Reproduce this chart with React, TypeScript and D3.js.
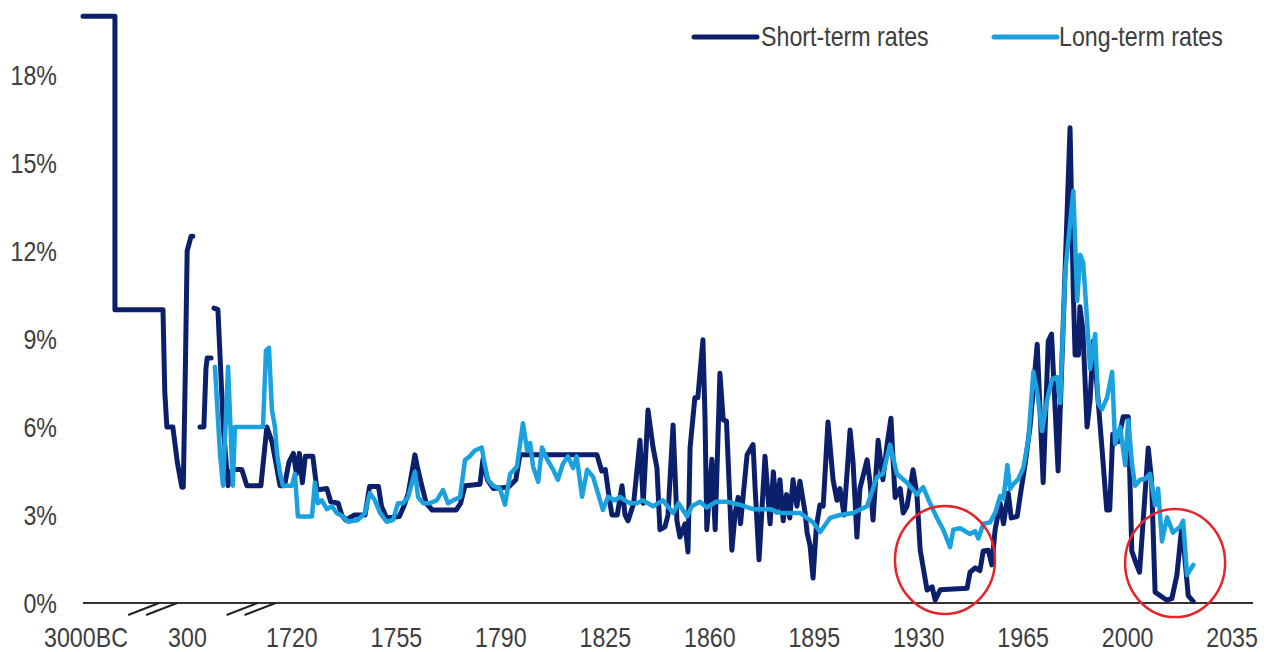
import React from "react";
import * as d3 from "d3";

type Pt = [number, number] | null;

// x positions: category slots (years from 1720 on; earlier slots are ancient periods)
const xTickLabels = ["3000BC", "300", "1720", "1755", "1790", "1825", "1860", "1895", "1930", "1965", "2000", "2035"];
const xTickPos = [1651, 1685, 1720, 1755, 1790, 1825, 1860, 1895, 1930, 1965, 2000, 2035];
const yTicks = [0, 3, 6, 9, 12, 15, 18];
const axisBreaks = [1673.5, 1706.5];

const shortTerm: Pt[] = [
  [1650, 20], [1660.7, 20], [1660.7, 10], [1676.8, 10], [1677.4, 7.2], [1678.1, 6], [1680.1, 6], [1681.6, 4.8], [1683.1, 3.95], [1683.6, 3.95], [1684.3, 8], [1684.9, 12], [1686.2, 12.5], [1686.8, 12.5], null,
  [1689.2, 6], [1690.5, 6], [1691.2, 8], [1691.6, 8.35], [1692.9, 8.35], null,
  [1693.9, 10.05], [1695.2, 10], [1697, 6], [1698.6, 4], [1699.9, 4.55], [1703.2, 4.55], [1704.9, 4], [1709.6, 4], [1711.6, 6], [1713.3, 5.5], [1714.6, 4.8], [1716, 4], [1717.5, 4], [1719, 4.8], [1720.5, 5.1], [1721.5, 4.4], [1722.5, 5.1], [1723.5, 4.1], [1724.5, 5.0], [1727, 5.0], [1728.4, 3.85], [1731.7, 3.9], [1733, 3.45], [1735.5, 3.4], [1736.7, 3.0], [1738, 2.83], [1741, 3.0], [1744.5, 3.0], [1746, 3.97], [1749, 3.97], [1750, 3.3], [1751.7, 2.9], [1756, 2.95], [1757.5, 3.3], [1759, 3.75], [1761.2, 5.05], [1762, 4.65], [1763.5, 4.0], [1765, 3.4], [1767, 3.17], [1775, 3.17], [1776.5, 3.4], [1778, 4.0], [1783, 4.05], [1784, 4.9], [1785.5, 4.2], [1787.5, 3.9], [1792.5, 3.95], [1795, 4.2], [1796.4, 5.05], [1822.2, 5.05], [1823.8, 4.5], [1825, 4.55], [1826, 3.8], [1827.2, 3.0], [1829, 3.0], [1830.6, 4.0], [1831.6, 3.0], [1832.6, 2.8], [1834.5, 3.4], [1836.6, 5.55], [1837.7, 3.4], [1839.3, 6.58], [1841, 5.3], [1842.3, 4.6], [1843.3, 2.5], [1845, 2.6], [1846, 3.0], [1847.7, 6.07], [1849, 2.8], [1850, 2.25], [1851.7, 2.7], [1852.7, 1.74], [1853.4, 5.3], [1855, 7.0], [1856, 7.0], [1857.7, 8.97], [1858.4, 6.35], [1859, 2.5], [1860.7, 4.9], [1861.8, 2.5], [1863.4, 7.83], [1864.5, 6.24], [1865.6, 6.2], [1867.4, 1.8], [1868.5, 3.07], [1869.5, 3.6], [1870.3, 2.7], [1872.5, 5.05], [1874.5, 5.4], [1875.2, 3.9], [1876.5, 1.47], [1878.5, 5.0], [1880.2, 2.7], [1881.3, 4.47], [1882.4, 3.1], [1883.5, 4.2], [1884.6, 2.8], [1885.7, 3.7], [1886.8, 2.9], [1887.9, 4.2], [1889.2, 3.3], [1890.2, 4.15], [1891.9, 3.1], [1892.6, 2.4], [1893.6, 1.95], [1894.6, 0.85], [1895.7, 2.6], [1896.9, 3.34], [1898, 3.3], [1899.6, 6.17], [1901.3, 4.2], [1902.6, 3.5], [1903.6, 3.9], [1905, 3.0], [1907, 5.9], [1908, 4.8], [1909.3, 2.25], [1910.3, 3.9], [1912.7, 4.88], [1913.7, 4.1], [1914.7, 2.83], [1916.4, 5.55], [1918, 4.2], [1919.4, 5.4], [1920.7, 6.3], [1921.4, 4.9], [1922.1, 3.6], [1923.8, 3.9], [1924.8, 3.07], [1926.1, 3.3], [1928.1, 4.54], [1929.4, 3.7], [1930.5, 1.8], [1932.8, 0.44], [1934.5, 0.55], [1935.5, 0.1], [1937.2, 0.45], [1946.2, 0.5], [1947.2, 1.05], [1949, 1.2], [1950.5, 1.1], [1951.6, 1.77], [1953.3, 1.8], [1954.5, 1.3], [1955.6, 2.5], [1957.3, 3.4], [1958.4, 2.7], [1960, 3.75], [1961, 2.9], [1963, 2.95], [1964, 3.65], [1965.6, 4.7], [1967.3, 6.0], [1969.7, 8.82], [1971.7, 4.1], [1973.4, 8.93], [1974.5, 9.17], [1976.7, 4.5], [1980.7, 16.2], [1981.8, 10.6], [1982.4, 8.45], [1983.5, 8.45], [1984, 10.1], [1985, 9.3], [1986.4, 6.0], [1987.4, 6.9], [1988.5, 8.93], [1990.2, 6.8], [1991.3, 5.4], [1993, 3.17], [1994, 3.17], [1995, 5.75], [1996.8, 5.5], [1998.5, 6.35], [2000.2, 6.35], [2001.4, 1.77], [2003, 1.3], [2004, 1.05], [2006.9, 5.28], [2008, 4.2], [2009.2, 0.37], [2013, 0.1], [2014.8, 0.15], [2016.5, 0.95], [2018.2, 2.65], [2020.3, 0.25], [2022, 0.05],
];

const longTerm: Pt[] = [
  [1694.2, 8.05], [1695.9, 5.1], [1696.9, 4.0], [1698.6, 8.05], [1700.2, 4.0], [1700.9, 6.0], [1710.3, 6.0], [1711.3, 8.6], [1712.3, 8.7], [1713.3, 6.58], [1714.3, 6.0], [1715, 5.1], [1716, 4.43], [1717, 4.0], [1720, 4.0], [1721, 4.4], [1722, 2.95], [1726.7, 2.95], [1727.7, 4.1], [1728.7, 3.4], [1730, 3.5], [1731.7, 3.2], [1733.4, 3.3], [1735, 3.07], [1737.1, 2.95], [1738.8, 2.77], [1742.1, 2.83], [1744.5, 3.07], [1746.1, 3.75], [1747.8, 3.5], [1749.5, 3.07], [1751.7, 2.77], [1753.9, 2.83], [1755.5, 3.4], [1757.2, 3.4], [1758.9, 3.6], [1761.2, 4.47], [1762.3, 3.6], [1764, 3.4], [1766.2, 3.4], [1768.5, 3.5], [1770.6, 3.85], [1772.3, 3.4], [1774, 3.5], [1776.3, 3.6], [1778, 4.88], [1779.6, 5.0], [1781.3, 5.2], [1783.6, 5.3], [1784.7, 4.65], [1785.7, 4.2], [1787.4, 4.0], [1789.7, 3.9], [1791.4, 3.35], [1793.1, 4.4], [1795.4, 4.65], [1797.4, 6.13], [1798.8, 5.2], [1799.8, 5.45], [1800.8, 4.65], [1802.5, 4.13], [1803.8, 5.3], [1805.5, 4.9], [1807.5, 4.55], [1809.1, 4.2], [1810.8, 4.75], [1812.5, 5.0], [1814.2, 4.6], [1815.4, 5.0], [1817.2, 3.62], [1818.9, 4.54], [1820.9, 4.3], [1822.5, 3.75], [1824.2, 3.17], [1825.9, 3.62], [1828.2, 3.5], [1829.9, 3.62], [1831.6, 3.5], [1833.3, 3.4], [1835.6, 3.4], [1837.6, 3.5], [1841, 3.3], [1844.3, 3.5], [1847.7, 3.07], [1849.5, 3.4], [1852.4, 2.95], [1854, 3.3], [1856.7, 3.45], [1859, 3.25], [1862, 3.45], [1865.8, 3.45], [1870, 3.35], [1874.5, 3.2], [1880.2, 3.2], [1883.5, 3.07], [1890.2, 3.07], [1894.6, 2.75], [1897, 2.42], [1900.3, 2.9], [1903.6, 3.0], [1908, 3.07], [1912.7, 3.3], [1916, 4.3], [1918, 4.4], [1920.4, 5.4], [1922.7, 4.4], [1926.1, 4.1], [1929.4, 3.7], [1931.5, 3.95], [1933.8, 3.4], [1936.1, 2.9], [1938.2, 2.5], [1940.5, 1.9], [1941.6, 2.5], [1943.9, 2.55], [1947.2, 2.35], [1948.9, 2.45], [1950, 2.2], [1951.6, 2.7], [1953.9, 2.75], [1955.6, 3.07], [1957.3, 3.65], [1958.4, 3.55], [1959.7, 4.7], [1960.6, 3.89], [1961.7, 4.05], [1963.4, 4.23], [1965, 4.6], [1966.7, 5.52], [1968.4, 7.88], [1969.7, 7.2], [1971.3, 5.86], [1973, 6.9], [1974.7, 7.64], [1976.4, 7.7], [1977.4, 6.82], [1979.1, 11.3], [1981.8, 14.05], [1983.1, 10.3], [1984.1, 11.87], [1985.1, 11.6], [1986.4, 9.65], [1987.4, 7.98], [1989.1, 9.17], [1990.1, 6.82], [1991.4, 6.6], [1993.1, 7.0], [1994.8, 7.88], [1995.8, 5.42], [1997.5, 6.0], [1999.2, 4.7], [2000.2, 6.23], [2001.5, 4.7], [2002.5, 4.0], [2004.2, 4.2], [2005.9, 4.23], [2007.5, 4.4], [2009.2, 3.34], [2010.2, 3.9], [2011.5, 2.1], [2013.2, 2.92], [2015.2, 2.4], [2017.6, 2.6], [2018.6, 2.8], [2019.9, 0.95], [2022, 1.3],
];

// annotation circles: [slot, value]
const highlights: [number, number][] = [[1938.8, 1.47], [2015.9, 1.36]];

const seriesNames = ["Short-term rates", "Long-term rates"];
const DARK = "#0c1f6b";
const LIGHT = "#1aa1de";
const TEXT = "#3d3d3d";
const FONT = "'Liberation Sans', Arial, sans-serif";
const NARROW = 0.86;

function NText({ x, y, anchor, children }: { x: number; y: number; anchor?: string; children: React.ReactNode }) {
  return (
    <text
      transform={`translate(${x},${y}) scale(${NARROW},1)`}
      textAnchor={anchor || "start"}
      fontSize={27}
      fill={TEXT}
    >
      {children}
    </text>
  );
}

export default function App() {
  const W = 1264, H = 652;
  const x = d3.scaleLinear().domain([1650, 2042]).range([83, 1253]);
  const y = d3.scaleLinear().domain([0, 20]).range([603, 16.3]);
  const line = d3
    .line<Pt>()
    .defined((d) => d !== null)
    .x((d) => x((d as [number, number])[0]))
    .y((d) => y((d as [number, number])[1]))
    .curve(d3.curveLinear);
  const y0 = y(0);

  return (
    <svg width={W} height={H} style={{ position: "absolute", left: 0, top: 0, background: "#fff" }} fontFamily={FONT}>
      {yTicks.map((t) => (
        <NText key={t} x={57} y={y(t) + 10} anchor="end">{`${t}%`}</NText>
      ))}
      <line x1={x(1650)} x2={x(2042)} y1={y0} y2={y0} stroke="#333" strokeWidth={2} />
      {axisBreaks.map((b) => (
        <g key={b} stroke="#222" strokeWidth={2}>
          <line x1={x(b) - 25} y1={y0 + 12} x2={x(b) + 6} y2={y0} />
          <line x1={x(b) - 7} y1={y0 + 12} x2={x(b) + 24} y2={y0} />
        </g>
      ))}
      {xTickLabels.map((lab, i) => (
        <NText key={lab} x={x(xTickPos[i])} y={647} anchor="middle">{lab}</NText>
      ))}
      <path d={line(shortTerm) || ""} fill="none" stroke={DARK} strokeWidth={5} strokeLinejoin="round" strokeLinecap="round" />
      <path d={line(longTerm) || ""} fill="none" stroke={LIGHT} strokeWidth={4.5} strokeLinejoin="round" strokeLinecap="round" />
      {highlights.map(([p, v], i) => (
        <ellipse key={i} cx={x(p)} cy={y(v)} rx={50} ry={54} fill="none" stroke="#e5232b" strokeWidth={2.5} />
      ))}
      <line x1={694} x2={757} y1={37} y2={37} stroke={DARK} strokeWidth={5} strokeLinecap="round" />
      <NText x={761} y={46}>{seriesNames[0]}</NText>
      <line x1={994} x2={1057} y1={37} y2={37} stroke={LIGHT} strokeWidth={5} strokeLinecap="round" />
      <NText x={1059} y={46}>{seriesNames[1]}</NText>
    </svg>
  );
}
